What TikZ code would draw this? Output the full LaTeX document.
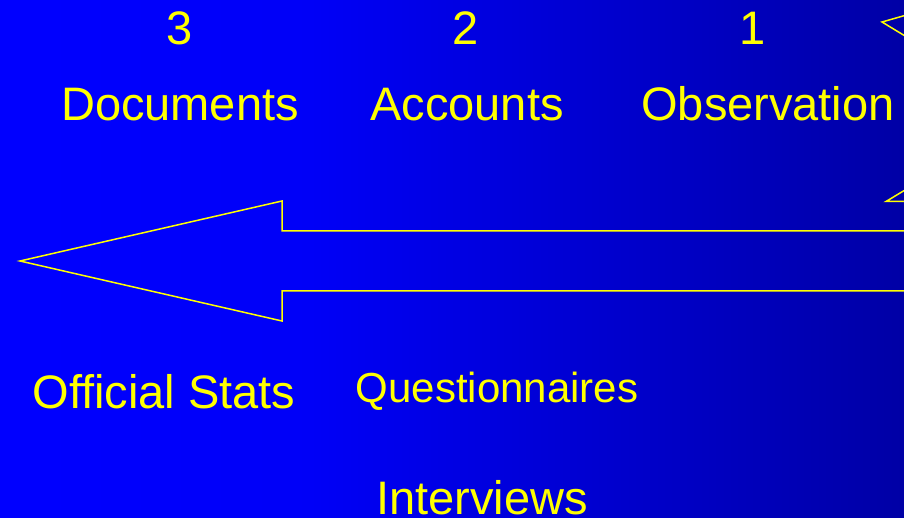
\documentclass[tikz,border=0pt]{standalone}
\usepackage{fontspec}
\setmainfont{Liberation Sans}
\pgfdeclarehorizontalshading{bgshade}{100bp}{rgb(0bp)=(0,0,1); rgb(25bp)=(0,0,1); rgb(42bp)=(0,0,0.97); rgb(75bp)=(0,0,0.65); rgb(100bp)=(0,0,0.65)}
\definecolor{txtyellow}{RGB}{255,255,0}
\tikzset{
  lbl/.style={text=txtyellow, anchor=base, inner sep=0pt, font=\fontsize{47}{56}\selectfont},
  lblsmall/.style={lbl, font=\fontsize{42}{50}\selectfont},
  outline/.style={draw=txtyellow, line width=1.5pt, line join=miter}
}
\begin{document}
\begin{tikzpicture}[x=1pt,y=-1pt]
\useasboundingbox (0,0) rectangle (904,518);
\shade[shading=bgshade] (0,0) rectangle (904,518);
% big arrow
\draw[outline] (910,231) -- (282,231) -- (282,201) -- (20,261) -- (282,321) -- (282,291) -- (910,291);
% partial shapes at right edge
\draw[outline] (910,14) -- (882,22) -- (910,39);
\draw[outline] (910,187) -- (886,201.5) -- (910,201.5);
% labels
\node[lbl] (n3) at (180,45) {3};
\node[lbl] (n2) at (466,45) {2};
\node[lbl] (n1) at (753,45) {1};
\node[lbl] (doc) at (180,121) {Documents};
\node[lbl] (acc) at (467,121) {Accounts};
\node[lbl] (obs) at (768,121) {Observation};
\node[lbl] (off) at (164,408) {Official Stats};
\node[lblsmall] (que) at (497,402) {Questionnaires};
\node[lbl] (int) at (482,514) {Interviews};
\end{tikzpicture}
\end{document}
